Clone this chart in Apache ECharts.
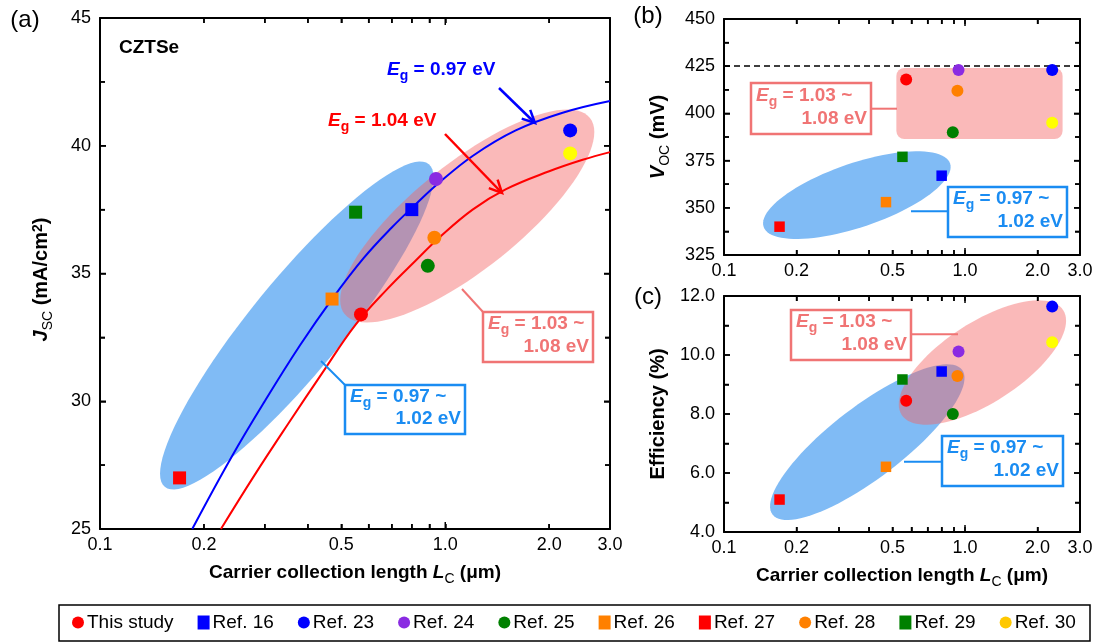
<!DOCTYPE html>
<html>
<head>
<meta charset="utf-8">
<title>CZTSe carrier collection length</title>
<script src="https://cdn.jsdelivr.net/npm/echarts@6.0.0/dist/echarts.min.js"></script>
<style>
html, body { margin: 0; padding: 0; background: #ffffff; }
#chart { width: 1099px; height: 644px; }
</style>
</head>
<body>
<div id="chart"></div>
<script>
// ---------------- data ----------------
const refNames  = ['This study', 'Ref. 16', 'Ref. 23', 'Ref. 24', 'Ref. 25', 'Ref. 26', 'Ref. 27', 'Ref. 28', 'Ref. 29', 'Ref. 30'];
const refShapes = ['circle', 'rect', 'circle', 'circle', 'circle', 'rect', 'rect', 'circle', 'rect', 'circle'];
const refColors = ['#ff0000', '#0000ff', '#0000ff', '#8a2be2', '#008000', '#ff8000', '#ff0000', '#ff8000', '#008000', '#ffff00'];
const legendColors = ['#ff0000', '#0000ff', '#0000ff', '#8a2be2', '#008000', '#ff8000', '#ff0000', '#ff8000', '#008000', '#ffc800'];

// carrier collection length L_C (µm)
const collectionLength = [0.57, 0.80, 2.30, 0.94, 0.89, 0.47, 0.17, 0.93, 0.55, 2.30];
// short-circuit current density (mA/cm2)
const jscValues = [33.4, 37.5, 40.6, 38.7, 35.3, 34.0, 27.0, 36.4, 37.4, 39.7];
// open-circuit voltage (mV)
const vocValues = [418, 367, 423, 423, 390, 353, 340, 412, 377, 395];
// efficiency (%)
const effValues = [8.45, 9.44, 11.64, 10.12, 8.00, 6.21, 5.10, 9.29, 9.17, 10.43];

// modelled Jsc(L_C) curves for two band gaps
const curveLc097  = [0.185, 0.24, 0.30, 0.38, 0.47, 0.58, 0.70, 0.82, 0.95, 1.2, 1.6, 2.2, 3.0];
const curveJsc097 = [25.0, 27.8, 30.0, 32.2, 34.0, 35.6, 36.8, 37.7, 38.5, 39.6, 40.6, 41.3, 41.75];
const curveLc104  = [0.224, 0.28, 0.35, 0.44, 0.55, 0.68, 0.82, 0.96, 1.2, 1.5, 2.0, 2.5, 3.0];
const curveJsc104 = [25.0, 27.1, 29.1, 31.1, 33.0, 34.4, 35.5, 36.4, 37.5, 38.3, 39.0, 39.45, 39.75];

// Voc reference level (dashed line)
const vocReference = 425;

// tick values on the log axes
const xTickValues  = [0.1, 0.2, 0.3, 0.4, 0.5, 0.6, 0.7, 0.8, 0.9, 1, 2, 3];
const xLabelValues = [0.1, 0.2, 0.5, 1, 2, 3];

// value-axis ranges: [min, max, major step] for Jsc, Voc, efficiency
const jscRange = [25, 45, 5];
const vocRange = [325, 450, 25];
const effRange = [4, 12, 2];

// band-gap group regions: ends of the long axis [L_C, value]
const groupLowA  = [[0.154, 26.65], [0.896, 39.28]];
const groupHighA = [[0.511, 33.41], [2.624, 41.09]];
const groupLowB  = [[0.146, 339.9], [0.867, 373.5]];
const groupHighB = [[0.519, 386.4], [2.54, 424.1]];   // corners of rounded box
const groupLowC  = [[0.159, 4.59], [0.972, 9.50]];
const groupHighC = [[0.546, 7.97], [2.555, 11.52]];

// ---------------- styling ----------------
const FONT = '"Liberation Sans", Arial, Helvetica, sans-serif';
const BLUE_FILL = 'rgb(128,187,245)';
const PINK_FILL = 'rgba(244,100,100,0.45)';
const PINK_TEXT = '#f07474';
const BLUE_TEXT = '#1a8cf2';

function richStyles(color, size) {
  const s = size || 19;
  const sub = Math.round(s * 0.72);
  const base = { fontFamily: FONT, fontWeight: 'bold', fontSize: s, lineHeight: s + 4,
                 verticalAlign: 'top', color: color, fill: color };
  return {
    t:  Object.assign({}, base),
    n:  Object.assign({}, base, { fontWeight: 'normal' }),
    i:  Object.assign({}, base, { fontStyle: 'italic' }),
    sb: Object.assign({}, base, { fontSize: sub, lineHeight: sub, verticalAlign: 'bottom', padding: [Math.round(s * 0.5), 0, 0, 0] }),
    sn: Object.assign({}, base, { fontWeight: 'normal', fontSize: sub, lineHeight: sub, verticalAlign: 'bottom', padding: [Math.round(s * 0.5), 0, 0, 0] }),
    sp: Object.assign({}, base, { fontSize: sub, lineHeight: sub, verticalAlign: 'top' })
  };
}

const chart = echarts.init(document.getElementById('chart'), null, { renderer: 'canvas' });

const grids = [
  { left: 100, top: 18,  width: 510, height: 511 },
  { left: 724, top: 19,  width: 356, height: 236 },
  { left: 724, top: 296, width: 356, height: 236 }
];

function fmtX(v) {
  const r = +(+v).toPrecision(2);
  return r < 1 ? String(r) : r.toFixed(1);
}

function xAxisPair(gi, showLabels, name) {
  const line = () => ({ show: true, onZero: false, lineStyle: { color: '#000', width: 2 } });
  const tick = () => ({ show: true, inside: true, length: 5, customValues: xTickValues,
                        lineStyle: { color: '#000', width: 1.5 } });
  const bottom = {
    type: 'log', logBase: 10, gridIndex: gi, min: 0.1, max: 3, position: 'bottom',
    axisLine: line(), axisTick: tick(),
    axisLabel: { show: showLabels, customValues: xLabelValues, formatter: fmtX, color: '#000',
                 fontFamily: FONT, fontSize: 18, margin: 7 },
    splitLine: { show: false }, minorTick: { show: false }, minorSplitLine: { show: false }
  };
  if (name) {
    bottom.name = name;
    bottom.nameLocation = 'middle';
    bottom.nameGap = 34;
    bottom.nameTextStyle = { rich: richStyles('#000', 19), verticalAlign: 'top' };
  }
  const top = {
    type: 'log', logBase: 10, gridIndex: gi, min: 0.1, max: 3, position: 'top',
    axisLine: line(), axisTick: tick(), axisLabel: { show: false },
    splitLine: { show: false }, minorTick: { show: false }
  };
  return [bottom, top];
}

function yAxisPair(gi, range, fmt, name, gap, pad) {
  const mk = (pos) => ({
    type: 'value', gridIndex: gi, min: range[0], max: range[1], interval: range[2], position: pos,
    axisLine: { show: true, onZero: false, lineStyle: { color: '#000', width: 2 } },
    axisTick: { show: true, inside: true, length: 6, lineStyle: { color: '#000', width: 1.5 } },
    minorTick: { show: true, splitNumber: 2, length: 5, lineStyle: { color: '#000', width: 1.5 } },
    splitLine: { show: false }, minorSplitLine: { show: false }
  });
  const left = mk('left');
  left.axisLabel = { show: true, formatter: fmt, color: '#000', fontFamily: FONT, fontSize: 18, margin: 9 };
  left.name = name;
  left.nameLocation = 'middle';
  left.nameRotate = 90;
  left.nameGap = gap;
  left.nameTextStyle = { rich: richStyles('#000', 20), padding: pad };
  const right = mk('right');
  right.axisLabel = { show: false };
  return [left, right];
}

const xAxes = [].concat(
  xAxisPair(0, true, '{t|Carrier collection length }{i|L}{sn|C}{t| (\u03bcm)}'),
  xAxisPair(1, true, null),
  xAxisPair(2, true, '{t|Carrier collection length }{i|L}{sn|C}{t| (\u03bcm)}')
);
const yAxes = [].concat(
  yAxisPair(0, jscRange, v => String(v), '{i|J}{sn|SC}{t| (mA/cm}{sp|2}{t|)}', 45, [0, 12, 0, 0]),
  yAxisPair(1, vocRange, v => String(v), '{i|V}{sn|OC}{t| (mV)}', 52, [0, 0, 0, 0]),
  yAxisPair(2, effRange, v => (+v).toFixed(1), '{t|Efficiency (%)}', 52, [0, 0, 0, 0])
);

// ---------- shaded group regions ----------
function ellipseSeries(axisIdx, regions, widths, colors) {
  return {
    type: 'custom', xAxisIndex: axisIdx, yAxisIndex: axisIdx, silent: true, z: 1,
    encode: { x: [0, 2], y: [1, 3] },
    data: regions.map(r => [r[0][0], r[0][1], r[1][0], r[1][1]]),
    renderItem: function (params, api) {
      const p1 = api.coord([api.value(0), api.value(1)]);
      const p2 = api.coord([api.value(2), api.value(3)]);
      const cx = (p1[0] + p2[0]) / 2, cy = (p1[1] + p2[1]) / 2;
      const a = Math.hypot(p2[0] - p1[0], p2[1] - p1[1]) / 2;
      const b = widths[params.dataIndex];
      const th = Math.atan2(p2[1] - p1[1], p2[0] - p1[0]);
      const pts = [];
      for (let k = 0; k < 96; k++) {
        const t = k / 96 * Math.PI * 2;
        const ex = a * Math.cos(t), ey = b * Math.sin(t);
        pts.push([cx + ex * Math.cos(th) - ey * Math.sin(th), cy + ex * Math.sin(th) + ey * Math.cos(th)]);
      }
      return { type: 'polygon', shape: { points: pts }, style: { fill: colors[params.dataIndex] } };
    }
  };
}

const series = [];
series.push(ellipseSeries(0, [groupLowA, groupHighA], [46, 53], [BLUE_FILL, PINK_FILL]));
series.push(ellipseSeries(2, [groupLowB], [32], [BLUE_FILL]));
series.push({
  type: 'custom', xAxisIndex: 2, yAxisIndex: 2, silent: true, z: 1,
  encode: { x: [0, 2], y: [1, 3] },
  data: [[groupHighB[0][0], groupHighB[0][1], groupHighB[1][0], groupHighB[1][1]]],
  renderItem: function (params, api) {
    const p1 = api.coord([api.value(0), api.value(1)]);
    const p2 = api.coord([api.value(2), api.value(3)]);
    return { type: 'rect',
      shape: { x: Math.min(p1[0], p2[0]), y: Math.min(p1[1], p2[1]),
               width: Math.abs(p2[0] - p1[0]), height: Math.abs(p2[1] - p1[1]), r: 8 },
      style: { fill: PINK_FILL } };
  }
});
series.push(ellipseSeries(4, [groupLowC, groupHighC], [36, 40], [BLUE_FILL, PINK_FILL]));

// ---------- inward tick marks on all four frame sides ----------
function frameTickSeries(axisIdx, range) {
  return {
    type: 'custom', xAxisIndex: axisIdx, yAxisIndex: axisIdx, silent: true, z: 6, clip: false,
    data: [[1, range[0]]],
    renderItem: function (params, api) {
      const xMin = 0.1, xMax = 3;
      const children = [];
      const seg = (x1, y1, x2, y2) => children.push({ type: 'line', shape: { x1: x1, y1: y1, x2: x2, y2: y2 },
                                                       style: { stroke: '#000', lineWidth: 1.5 } });
      xTickValues.forEach(v => {
        const b = api.coord([v, range[0]]), t = api.coord([v, range[1]]);
        const len = (v === 1) ? 7 : 5;
        seg(b[0], b[1], b[0], b[1] - len);
        seg(t[0], t[1], t[0], t[1] + len);
      });
      const half = range[2] / 2;
      for (let k = 0; range[0] + k * half <= range[1] + 1e-9; k++) {
        const v = range[0] + k * half;
        const len = (k % 2 === 0) ? 6 : 5;
        const l = api.coord([xMin, v]), r = api.coord([xMax, v]);
        seg(l[0], l[1], l[0] + len, l[1]);
        seg(r[0], r[1], r[0] - len, r[1]);
      }
      return { type: 'group', children: children };
    }
  };
}
series.push(frameTickSeries(0, jscRange));
series.push(frameTickSeries(2, vocRange));
series.push(frameTickSeries(4, effRange));

// ---------- modelled curves ----------
function zip(a, b) { return a.map((v, i) => [v, b[i]]); }
series.push({ type: 'line', xAxisIndex: 0, yAxisIndex: 0, data: zip(curveLc097, curveJsc097),
  smooth: 0.4, symbol: 'none', silent: true, z: 3, clip: true,
  lineStyle: { color: '#0000ff', width: 2 } });
series.push({ type: 'line', xAxisIndex: 0, yAxisIndex: 0, data: zip(curveLc104, curveJsc104),
  smooth: 0.4, symbol: 'none', silent: true, z: 3, clip: true,
  lineStyle: { color: '#ff0000', width: 2 } });

// ---------- device data points ----------
const panels = [
  { axis: 0, values: jscValues, circle: 14, rect: 13 },
  { axis: 2, values: vocValues, circle: 12, rect: 10.5 },
  { axis: 4, values: effValues, circle: 12, rect: 10.5 }
];
panels.forEach(p => {
  refNames.forEach((name, i) => {
    const s = {
      type: 'scatter', name: name, xAxisIndex: p.axis, yAxisIndex: p.axis, z: 5, silent: true,
      symbol: refShapes[i], symbolSize: refShapes[i] === 'circle' ? p.circle : p.rect,
      itemStyle: { color: refColors[i], opacity: 1 },
      data: [[collectionLength[i], p.values[i]]]
    };
    if (p.axis === 2 && i === 0) {
      // dashed Voc reference level across panel (b)
      s.markLine = {
        silent: true, symbol: 'none', label: { show: false }, animation: false,
        lineStyle: { type: [6, 4], color: '#000', width: 1.5 },
        data: [{ yAxis: vocReference }]
      };
    }
    series.push(s);
  });
});

// ---------- annotations (labels, arrows, group boxes, legend frame) ----------
function text(x, y, str, color, align, size, weight) {
  return { type: 'text', x: x, y: y, z2: 3, silent: true,
    style: { text: str, rich: richStyles(color, size || 19), fill: color,
             fontFamily: FONT, fontSize: size || 19, fontWeight: weight || 'bold',
             align: align || 'left', textAlign: align || 'left',
             verticalAlign: 'middle', textVerticalAlign: 'middle' } };
}
function box(x, y, w, h, color) {
  return { type: 'rect', z2: 2, silent: true, shape: { x: x, y: y, width: w, height: h },
           style: { fill: '#ffffff', stroke: color, lineWidth: 2.5 } };
}
function leader(points, color) {
  return { type: 'polyline', z2: 1, silent: true, shape: { points: points },
           style: { stroke: color, lineWidth: 2, fill: null } };
}
function arrow(x1, y1, x2, y2, color) {
  const ang = Math.atan2(y2 - y1, x2 - x1), L = 14, spread = 0.45;
  return [
    { type: 'line', z2: 2, silent: true, shape: { x1: x1, y1: y1, x2: x2, y2: y2 },
      style: { stroke: color, lineWidth: 2.5 } },
    { type: 'polyline', z2: 2, silent: true,
      shape: { points: [[x2 - L * Math.cos(ang - spread), y2 - L * Math.sin(ang - spread)], [x2, y2],
                        [x2 - L * Math.cos(ang + spread), y2 - L * Math.sin(ang + spread)]] },
      style: { stroke: color, lineWidth: 2.5, fill: null } }
  ];
}
function groupLabel(x, y, w, h, color, first, second) {
  return [
    box(x, y, w, h, color),
    text(x + 5, y + h * 0.28, '{i|E}{sb|g}{t| = ' + first + ' ~}', color, 'left'),
    text(x + w - 4, y + h * 0.74, '{t|' + second + ' eV}', color, 'right')
  ];
}

function annotationElements() {
  return [].concat(
    [
      text(25, 20, '(a)', '#000', 'center', 24, 'normal'),
      text(648, 16, '(b)', '#000', 'center', 24, 'normal'),
      text(648, 297, '(c)', '#000', 'center', 24, 'normal'),
      text(119, 50, '{t|CZTSe}', '#000', 'left', 19),
      text(387, 72, '{i|E}{sb|g}{t| = 0.97 eV}', '#0000ff', 'left', 19),
      text(328, 123, '{i|E}{sb|g}{t| = 1.04 eV}', '#ff0000', 'left', 19)
    ],
    arrow(499, 88, 535, 123, '#0000ff'),
    arrow(445, 134, 502, 193, '#ff0000'),
    // panel (a)
    [leader([[462, 289], [483, 312]], PINK_TEXT)],
    groupLabel(483, 312, 110, 50, PINK_TEXT, '1.03', '1.08'),
    [leader([[321, 361], [345, 385]], BLUE_TEXT)],
    groupLabel(345, 385, 120, 49, BLUE_TEXT, '0.97', '1.02'),
    // panel (b)
    [leader([[870, 108.7], [897, 108.7]], PINK_TEXT)],
    groupLabel(751, 83, 120, 51, PINK_TEXT, '1.03', '1.08'),
    [leader([[911, 211.3], [948, 211.3]], BLUE_TEXT)],
    groupLabel(948, 187, 119, 50, BLUE_TEXT, '0.97', '1.02'),
    // panel (c)
    [leader([[911, 334.3], [958, 334.3]], PINK_TEXT)],
    groupLabel(791, 310, 120, 50, PINK_TEXT, '1.03', '1.08'),
    [leader([[904, 461.7], [942, 461.7]], BLUE_TEXT)],
    groupLabel(942, 436, 121, 50, BLUE_TEXT, '0.97', '1.02'),
    // legend frame
    [{ type: 'rect', z2: 3, silent: true, shape: { x: 59, y: 605, width: 1031, height: 36 },
       style: { fill: null, stroke: '#000', lineWidth: 1.5 } }]
  );
}

series.push({
  type: 'custom', xAxisIndex: 0, yAxisIndex: 0, silent: true, z: 20, clip: false,
  data: [[1, 35]],
  renderItem: function () {
    return { type: 'group', children: annotationElements() };
  }
});

const option = {
  animation: false,
  backgroundColor: '#ffffff',
  textStyle: { fontFamily: FONT },
  grid: grids,
  xAxis: xAxes,
  yAxis: yAxes,
  legend: {
    show: true, selectedMode: false, left: 72, top: 613, orient: 'horizontal',
    itemWidth: 12, itemHeight: 14, itemGap: 24, padding: 0,
    textStyle: { color: '#000', fontFamily: FONT, fontSize: 19, padding: [0, 0, 0, -2] },
    data: refNames.map((n, i) => ({ name: n, icon: refShapes[i], itemStyle: { color: legendColors[i] } }))
  },
  tooltip: { show: false },
  series: series
};
chart.setOption(option);
</script>
</body>
</html>
